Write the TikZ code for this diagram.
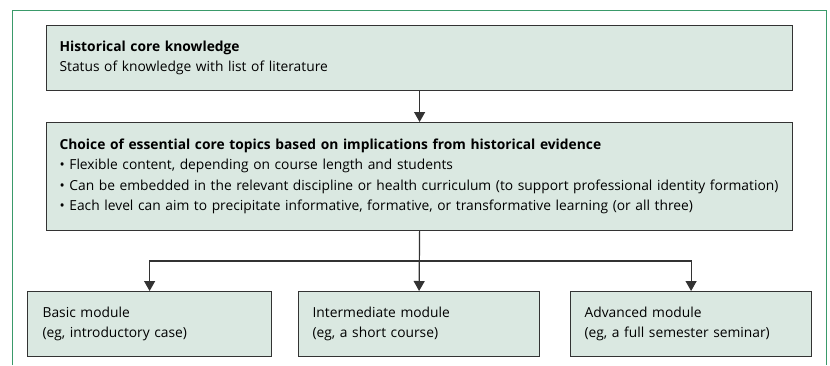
\documentclass[tikz,border=0pt]{standalone}
\usepackage{fontspec}
\setmainfont{Open Sans}
\usetikzlibrary{arrows.meta}
\definecolor{boxfill}{HTML}{DAE8E1}
\definecolor{framegreen}{HTML}{3A9A6A}
\definecolor{boxline}{HTML}{333333}

\begin{document}
\begin{tikzpicture}[x=1pt, y=-1pt,
  box/.style={draw=boxline, line width=1.2pt, fill=boxfill, anchor=north west,
    align=left, inner xsep=13pt, inner ysep=0pt, font=\fontsize{13.8}{20.5}\selectfont},
  link/.style={-{Triangle[width=11pt,length=10pt]}, line width=1.2pt, boxline}]
  \useasboundingbox (0,0) rectangle (830,365);
  \draw[framegreen, line width=1pt] (12,365) -- (12,10) -- (826,10) -- (826,365);
  \node[box, text width=720pt, minimum height=65pt] (hist) at (46,25)
    {\textbf{Historical core knowledge}\\Status of knowledge with list of literature};
  \node[box, text width=720pt, minimum height=108pt] (core) at (46,122)
    {\textbf{Choice of essential core topics based on implications from historical evidence}\\
     • Flexible content, depending on course length and students\\
     • Can be embedded in the relevant discipline or health curriculum (to support professional identity formation)\\
     • Each level can aim to precipitate informative, formative, or transformative learning (or all three)};
  \node[box, text width=214pt, minimum height=65pt, inner xsep=15pt] (basic) at (27,291)
    {Basic module\\(eg, introductory case)};
  \node[box, text width=213pt, minimum height=65pt, inner xsep=14pt] (inter) at (298,291)
    {Intermediate module\\(eg, a short course)};
  \node[box, text width=213pt, minimum height=65pt, inner xsep=14pt] (adv) at (570,291)
    {Advanced module\\(eg, a full semester seminar)};
  \coordinate (split) at (core.south |- 0,261);
  \draw[link] (hist.south) -- (core.north);
  \draw[link] (core.south) -- (inter.north);
  \draw[link] (split) -| (basic.north);
  \draw[link] (split) -| (adv.north);
\end{tikzpicture}
\end{document}
